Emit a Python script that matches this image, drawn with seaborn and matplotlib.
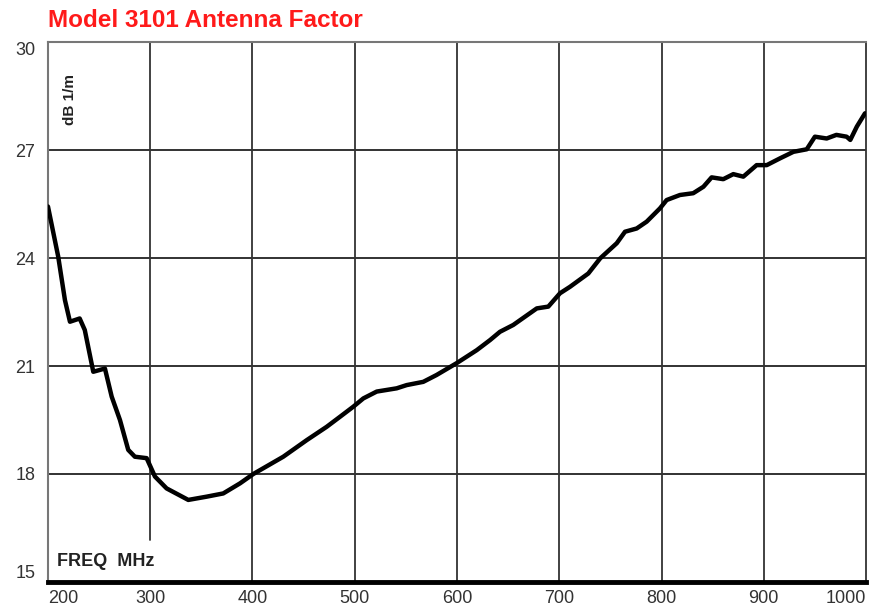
import matplotlib
matplotlib.use("Agg")
import matplotlib.pyplot as plt
import seaborn as sns
import pandas as pd

# antenna factor curve (MHz, dB 1/m)
freq_mhz = [200, 210, 216.6, 221.5, 231, 236, 244.3, 255.7, 262.3, 270.4, 278.5, 285,
            296.5, 304.6, 316, 337.2, 355.1, 371.4, 387.8, 400.8, 430.1, 453, 472.5,
            485.6, 498.6, 508.4, 521.5, 541, 550.8, 567, 580, 599.7, 619.3, 632.3, 642,
            655, 678, 689.3, 700.7, 710.5, 728.4, 740, 756.2, 764.3, 775.7, 785.5, 798.5,
            805, 818, 831, 841, 849, 860.4, 870.2, 880, 893, 902.9, 916, 929, 942, 950,
            961.5, 971, 981, 984.6, 991, 999]
antenna_factor = [25.43, 24.04, 22.83, 22.23, 22.32, 22.0, 20.84, 20.93, 20.15, 19.5, 18.67,
                  18.48, 18.44, 17.93, 17.6, 17.28, 17.37, 17.46, 17.74, 18.0, 18.48, 18.94,
                  19.31, 19.59, 19.87, 20.1, 20.29, 20.38, 20.47, 20.56, 20.75, 21.08, 21.44,
                  21.72, 21.95, 22.14, 22.6, 22.65, 23.02, 23.2, 23.57, 23.99, 24.41, 24.73,
                  24.82, 25.01, 25.38, 25.61, 25.75, 25.8, 25.98, 26.24, 26.19, 26.33, 26.26,
                  26.58, 26.58, 26.77, 26.95, 27.02, 27.37, 27.32, 27.42, 27.37, 27.28,
                  27.65, 28.02]

x_ticks = [200, 300, 400, 500, 600, 700, 800, 900, 1000]
y_ticks = [15, 18, 21, 24, 27, 30]
title = "Model 3101 Antenna Factor"

df = pd.DataFrame({"freq": freq_mhz, "af": antenna_factor})

sns.set_theme(style="white")
plt.rcParams["font.family"] = ["Liberation Sans", "DejaVu Sans"]

fig = plt.figure(figsize=(8.77, 6.16), dpi=100)
ax = fig.add_axes([0.0547, 0.0552, 0.9328, 0.8766])

# grid drawn by hand: the 300 MHz line stops short above the "FREQ MHz" label
for t in y_ticks[1:-1]:
    ax.axhline(t, color="#222222", lw=1.3, zorder=1)
for t in x_ticks[1:-1]:
    ymin = (16.17 - 15) / 15 if t == 300 else 0
    ax.axvline(t, ymin=ymin, color="#333333", lw=1.3, zorder=1)

sns.lineplot(data=df, x="freq", y="af", color="black", lw=3.2, ax=ax, zorder=3)

ax.set_xlim(200, 1000)
ax.set_ylim(15, 30)
ax.set_xticks(x_ticks)
ax.set_yticks(y_ticks)
ax.set_xticklabels([str(t) for t in x_ticks], fontsize=13, color="#333333")
ax.set_yticklabels([str(t) for t in y_ticks], fontsize=13, color="#333333")
ax.tick_params(axis="both", length=0, pad=6)
ax.tick_params(axis="y", pad=9)
# end labels sit inside the frame, as in the reference
xl = ax.get_xticklabels()
xl[0].set_ha("left")
xl[-1].set_ha("right")
yl = ax.get_yticklabels()
yl[0].set_va("bottom")
yl[-1].set_va("top")
ax.set_xlabel("")
ax.set_ylabel("")

for side in ["left", "top"]:
    ax.spines[side].set_color("#777777")
    ax.spines[side].set_linewidth(1.5)
ax.spines["right"].set_color("#333333")
ax.spines["right"].set_linewidth(1.3)
ax.spines["bottom"].set_color("black")
ax.spines["bottom"].set_linewidth(3.5)

ax.text(0.018, 0.94, "dB 1/m", transform=ax.transAxes, rotation=90,
        fontsize=11, fontweight="bold", color="#222222", va="top", ha="left")
ax.text(0.011, 0.022, "FREQ  MHz", transform=ax.transAxes,
        fontsize=13, fontweight="bold", color="#222222", va="bottom", ha="left")

fig.text(0.055, 0.985, title, fontsize=17.5, fontweight="bold", color="#ff1a1a",
         va="top", ha="left")

fig.savefig("out.png", dpi=100)
